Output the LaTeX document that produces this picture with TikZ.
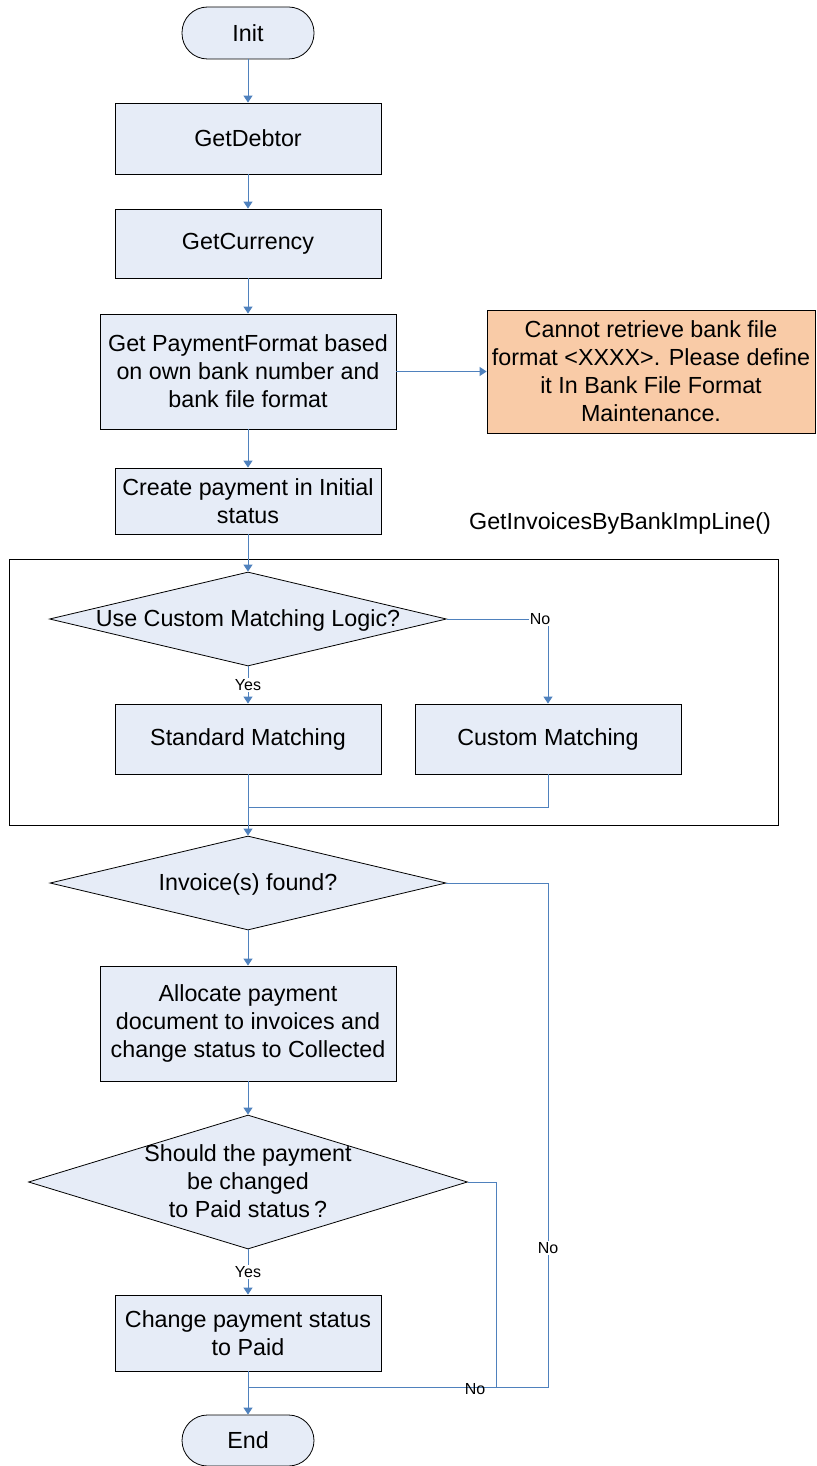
\documentclass[tikz,border=0pt]{standalone}
\usepackage{fontspec}
\setmainfont{Liberation Sans}
\usetikzlibrary{arrows.meta,shapes.geometric}
\definecolor{FlowFill}{HTML}{E6ECF7}
\definecolor{FlowWarn}{HTML}{F9CBA7}
\definecolor{FlowLine}{HTML}{4F81BD}
\newcommand{\dectext}[1]{\smash{\raisebox{-0.36em}{\makebox[0pt]{\begin{tabular}{@{}c@{}}#1\end{tabular}}}}}
\tikzset{
flowstep/.style={draw=black, line width=0.8pt, fill=FlowFill, align=center, inner sep=0pt, minimum width=266pt},
flowterm/.style={draw=black, line width=0.8pt, fill=FlowFill, rounded corners=25.5pt, inner sep=0pt, minimum width=132pt, minimum height=52pt},
flowwarn/.style={draw=black, line width=0.8pt, fill=FlowWarn, align=center, inner sep=0pt},
flowdec/.style={diamond, draw=black, line width=0.8pt, fill=FlowFill, inner sep=0pt},
flowgroup/.style={draw=black, line width=0.8pt, inner sep=0pt},
flowarrow/.style={-{Triangle[width=9pt,length=7pt]}, line width=1pt, draw=FlowLine},
flowline/.style={line width=1pt, draw=FlowLine},
flowlabel/.style={fill=white, inner sep=1pt, font=\fontsize{16}{19}\selectfont},
flowlabelbare/.style={inner sep=1pt, font=\fontsize{16}{19}\selectfont}
}
\begin{document}
\begin{tikzpicture}[x=1pt, y=-1pt, font=\fontsize{23.3}{28}\selectfont]
  \useasboundingbox (0,0) rectangle (816,1466);
  % group frame
  \node[flowgroup, minimum width=769pt, minimum height=266pt] (grp) at (393.5,692) {};
  \node (grplabel) at (620,523) {GetInvoicesByBankImpLine()};
  % main column
  \node[flowterm] (init) at (248,33) {Init};
  \node[flowstep, minimum height=71pt] (debtor) at (248,138.5) {GetDebtor};
  \node[flowstep, minimum height=69pt] (currency) at (248,243.5) {GetCurrency};
  \node[flowstep, minimum width=296pt, minimum height=115pt] (fmt) at (248,371.5) {Get PaymentFormat based\\on own bank number and\\bank file format};
  \node[flowwarn, minimum width=328pt, minimum height=123pt] (err) at (651,371.5) {Cannot retrieve bank file\\format <XXXX>. Please define\\it In Bank File Format\\Maintenance.};
  \node[flowstep, minimum height=66pt] (create) at (248,501) {Create payment in Initial\\status};
  \node[flowdec, minimum width=397pt, minimum height=94pt] (dec1) at (248,619) {\dectext{Use Custom Matching Logic?}};
  \node[flowstep, minimum height=70pt] (std) at (248,739) {Standard Matching};
  \node[flowstep, minimum height=70pt] (cust) at (548,739) {Custom Matching};
  \node[flowdec, minimum width=396pt, minimum height=94pt] (dec2) at (248,883) {\dectext{Invoice(s) found?}};
  \node[flowstep, minimum width=296pt, minimum height=115pt] (alloc) at (248,1023.5) {Allocate payment\\document to invoices and\\change status to Collected};
  \node[flowdec, minimum width=439pt, minimum height=134pt] (dec3) at (248,1182) {\dectext{Should the payment\\be changed\\to Paid status\,?}};
  \node[flowstep, minimum height=76pt] (paid) at (248,1333) {Change payment status\\to Paid};
  \node[flowterm, minimum height=51pt] (endnode) at (248,1440.5) {End};
  % bends
  \coordinate (nobend1) at (548,619);
  \coordinate (merge1) at (248,807);
  \coordinate (nobend2) at (548,1387);
  \coordinate (nobend3) at (496,1387);
  \coordinate (merge2) at (248,1387);
  % connectors
  \draw[flowarrow] (init) -- (debtor);
  \draw[flowarrow] (debtor) -- (currency);
  \draw[flowarrow] (currency) -- (fmt);
  \draw[flowarrow] (fmt) -- (err);
  \draw[flowarrow] (fmt) -- (create);
  \draw[flowarrow] (create) -- (dec1);
  \draw[flowarrow] (dec1.east) -- (nobend1) -- (cust.north);
  \draw[flowarrow] (dec1.south) -- (std.north) node[flowlabel, midway] (yes1) {Yes};
  \draw[flowline] (cust.south) |- (merge1);
  \draw[flowarrow] (std.south) -- (dec2.north);
  \draw[flowline] (dec2.east) -| (nobend2) -- (merge2);
  \draw[flowarrow] (dec2.south) -- (alloc.north);
  \draw[flowarrow] (alloc) -- (dec3);
  \draw[flowarrow] (dec3.south) -- (paid.north) node[flowlabel, midway] (yes3) {Yes};
  \draw[flowline] (dec3.east) -| (nobend3) -- (merge2);
  \draw[flowarrow] (paid.south) -- (endnode.north);
  % labels
  \node[flowlabel] (no1) at (540,619) {No};
  \node[flowlabel] (no2) at (548,1248) {No};
  \node[flowlabelbare] (no3) at (475,1389) {No};
\end{tikzpicture}
\end{document}
